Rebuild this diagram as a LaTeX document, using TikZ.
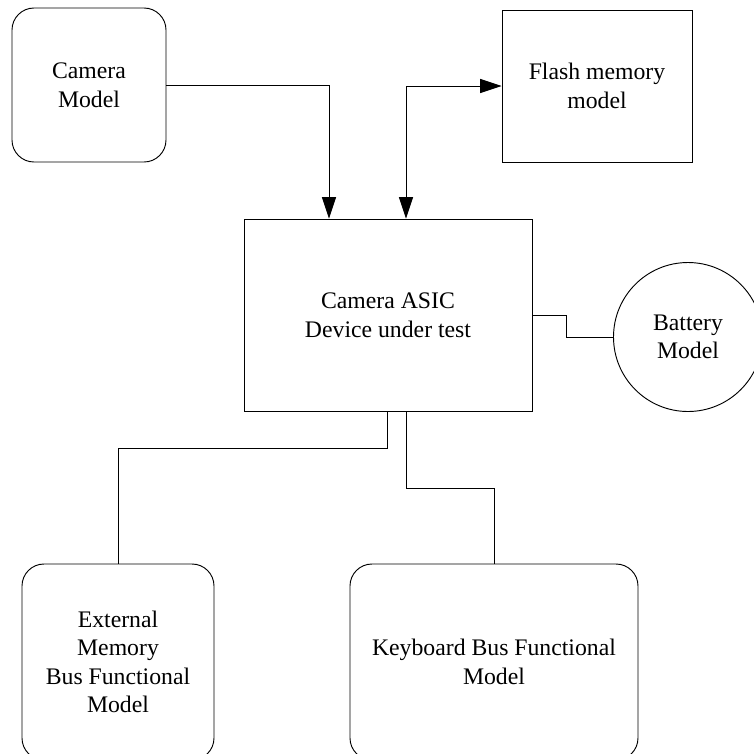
\documentclass[tikz,border=0pt]{standalone}
\usepackage{fontspec}
\setmainfont{Liberation Serif}
\usetikzlibrary{shapes,arrows.meta,positioning,calc}

\begin{document}
\begin{tikzpicture}[x=0.75pt, y=-0.75pt,
  >={Triangle[length=16pt, width=10.5pt]},
  block/.style={draw, rectangle, align=center, line width=0.7pt, font=\fontsize{17.8}{21.4}\selectfont},
  model/.style={block, rounded corners=16.5pt},
  wire/.style={line width=0.7pt}]
\useasboundingbox (0,0) rectangle (754,754);
\clip (0,0) rectangle (754,754);

% Camera model
\node[model, minimum width=115.5pt, minimum height=115.5pt] (camera) at (89,85) {Camera\\Model};

% Flash memory model
\node[block, minimum width=142.5pt, minimum height=114pt] (flash) at (597,86) {Flash memory\\model};

% Camera ASIC (DUT)
\node[block, minimum width=216pt, minimum height=144pt] (asic) at (388,315) {Camera ASIC\\Device under test};

% Battery model
\node[block, circle, minimum size=111.75pt, inner sep=0pt] (battery) at (688,337) {Battery\\Model};

% External memory BFM
\node[model, minimum width=144pt, minimum height=147pt] (extmem) at (118,662) {External\\Memory\\Bus Functional\\Model};

% Keyboard BFM
\node[model, minimum width=216pt, minimum height=147pt] (keyboard) at (494,662) {Keyboard Bus Functional\\Model};

% connections
\draw[wire, ->] (camera.east) -| ([xshift=-44.25pt]asic.north);
\draw[wire, <->] (flash.west) -| ([xshift=13.5pt]asic.north);
\draw[wire] (asic.east) -- ++(34,0) |- (battery.west);
\draw[wire] ([xshift=-0.75pt]asic.south) -- ++(0,37) -| (extmem.north);
\draw[wire] ([xshift=13.5pt]asic.south) -- ++(0,77) -| (keyboard.north);
\end{tikzpicture}
\end{document}
